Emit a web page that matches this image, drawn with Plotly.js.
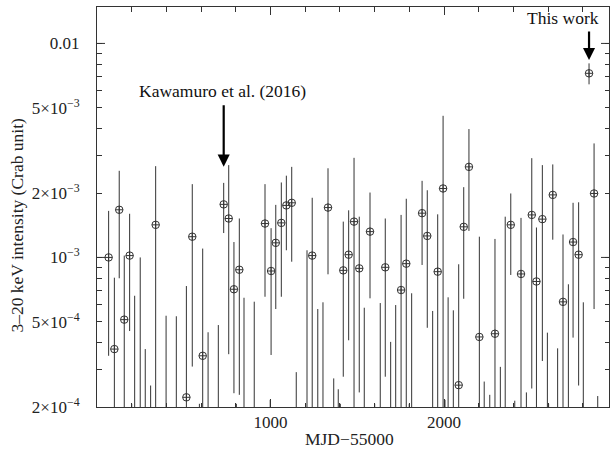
<!DOCTYPE html>
<html>
<head>
<meta charset="utf-8">
<script src="https://cdn.plot.ly/plotly-3.0.1.min.js"></script>
<style>html,body{margin:0;padding:0;background:#fff;}#chart{width:610px;height:449px;}</style>
</head>
<body>
<div id="chart"></div>
<script>
// Detections: MJD-55000, rate (Crab), lower bound, upper bound (0 = extends below axis)
var detMJD = [67,100,128,157,188,338,515,549,609,730,759,789,820,968,1003,1030,1062,1091,1122,1240,
  1331,1419,1450,1481,1511,1573,1661,1752,1782,1873,1903,1963,1994,2084,2113,2143,2203,2293,2384,2443,
  2505,2532,2566,2626,2685,2743,2775,2835,2864];
var detRate = [1.00e-3,3.73e-4,1.67e-3,5.12e-4,1.02e-3,1.42e-3,2.22e-4,1.25e-3,3.47e-4,1.77e-3,
  1.52e-3,7.10e-4,8.76e-4,1.44e-3,8.64e-4,1.17e-3,1.45e-3,1.75e-3,1.80e-3,1.02e-3,
  1.71e-3,8.70e-4,1.03e-3,1.47e-3,8.89e-4,1.32e-3,8.99e-4,7.04e-4,9.35e-4,1.61e-3,
  1.26e-3,8.58e-4,2.10e-3,2.53e-4,1.39e-3,2.65e-3,4.25e-4,4.40e-4,1.42e-3,8.37e-4,
  1.58e-3,7.72e-4,1.51e-3,1.96e-3,6.20e-4,1.18e-3,1.03e-3,7.25e-3,1.99e-3];
var detLow = [3.47e-4,0,7.99e-4,0,4.53e-4,0,0,3.09e-4,0,1.30e-3,
  3.53e-4,2.32e-4,2.28e-4,6.55e-4,3.50e-4,5.74e-4,6.55e-4,1.08e-3,9.55e-4,0,
  8.34e-4,2.77e-4,4.10e-4,0,2.34e-4,6.44e-4,2.77e-4,0,0,9.22e-4,
  4.69e-4,0,0,0,6.41e-4,1.33e-3,0,0,8.28e-4,0,
  2.44e-4,0,3.28e-4,1.21e-3,0,4.22e-4,2.52e-4,6.44e-3,5.74e-4];
var detHigh = [1.65e-3,8.04e-4,2.54e-3,1.02e-3,1.60e-3,2.67e-3,7.35e-4,2.20e-3,1.10e-3,2.23e-3,
  2.70e-3,1.18e-3,1.52e-3,2.20e-3,1.37e-3,1.76e-3,2.24e-3,2.41e-3,2.65e-3,1.90e-3,
  2.61e-3,1.47e-3,1.66e-3,2.92e-3,1.55e-3,2.01e-3,1.52e-3,1.58e-3,1.88e-3,2.28e-3,
  2.06e-3,1.59e-3,4.59e-3,9.29e-4,2.13e-3,3.98e-3,1.25e-3,1.22e-3,1.99e-3,1.53e-3,
  2.91e-3,1.38e-3,2.70e-3,2.72e-3,1.28e-3,1.80e-3,1.81e-3,8.07e-3,3.41e-3];

// Non-detections: bar from zero up to the upper value
var limMJD = [200,217,249,278,309,398,457,590,640,699,803,847,906,998,1148,1202,1210,1272,1302,1364,
  1390,1402,1540,1600,1632,1692,1721,1799,1813,1934,2005,2023,2053,2231,2263,2324,2352,2407,2474,2595,
  2602,2654,2716,2802,2885];
var limTop = [2.07e-4,6.62e-4,1.00e-3,3.73e-4,2.52e-4,5.34e-4,5.31e-4,2.07e-4,4.47e-4,4.83e-4,
  2.07e-4,6.48e-4,6.21e-4,2.16e-4,2.91e-4,2.07e-4,1.08e-3,5.74e-4,6.17e-4,2.72e-4,
  2.42e-4,2.07e-4,5.82e-4,2.07e-4,6.12e-4,4.03e-4,5.99e-4,2.07e-4,6.80e-4,5.62e-4,
  2.16e-4,6.51e-4,5.66e-4,2.63e-4,2.28e-4,3.08e-4,1.55e-3,2.14e-4,2.34e-4,4.45e-4,
  2.07e-4,3.76e-4,7.49e-4,6.17e-4,2.25e-4];

var yTickVals = [2e-4,5e-4,1e-3,2e-3,5e-3,0.01];
var yTickText = ['2×10<sup>−4</sup>','5×10<sup>−4</sup>','10<sup>−3</sup>','2×10<sup>−3</sup>','5×10<sup>−3</sup>','0.01'];
var yMinorVals = [3e-4,4e-4,6e-4,7e-4,8e-4,9e-4,3e-3,4e-3,6e-3,7e-3,8e-3,9e-3];
var yDecades = [1e-3,1e-2];
var xTickVals = [1000,2000];

var FONT = 'Liberation Serif, Times New Roman, serif';
var INK = '#333';

var errUp = detRate.map(function(v,i){return detHigh[i]-v;});
var errDn = detRate.map(function(v,i){return v-detLow[i];});

var traces = [
  {
    type:'scatter', mode:'markers', x:limMJD, y:limTop,
    marker:{size:2, opacity:0},
    error_y:{type:'data', symmetric:false, array:limTop.map(function(){return 0;}), arrayminus:limTop.slice(),
      color:INK, thickness:1, width:0},
    hoverinfo:'skip', showlegend:false
  },
  {
    type:'scatter', mode:'markers', x:detMJD, y:detRate,
    marker:{symbol:'circle-cross-open', size:7.5, color:INK, line:{width:1, color:INK}},
    error_y:{type:'data', symmetric:false, array:errUp, arrayminus:errDn,
      color:INK, thickness:1, width:0},
    showlegend:false
  }
];

var shapes = [];
yDecades.forEach(function(v){
  shapes.push({type:'line', xref:'paper', yref:'y', x0:0, x1:8/512, y0:v, y1:v, line:{color:INK, width:1}});
  shapes.push({type:'line', xref:'paper', yref:'y', x0:1-8/512, x1:1, y0:v, y1:v, line:{color:INK, width:1}});
});

var layout = {
  width:610, height:449,
  margin:{l:97, r:1, t:7, b:42, pad:0},
  paper_bgcolor:'#fff', plot_bgcolor:'#fff',
  font:{family:FONT, size:17, color:'#222'},
  showlegend:false,
  xaxis:{
    range:[0,2950], tickmode:'array', tickvals:xTickVals, ticktext:xTickVals.map(String),
    ticks:'inside', ticklen:8, tickcolor:INK, tickwidth:1,
    showline:true, linecolor:INK, linewidth:1, mirror:'ticks',
    showgrid:false, zeroline:false,
    minor:{ticks:'inside', tickmode:'linear', tick0:0, dtick:200, ticklen:4.5, tickcolor:INK, showgrid:false},
    tickfont:{family:FONT, size:17, color:'#222'}, ticklabelstandoff:0
  },
  yaxis:{
    type:'log', range:[Math.log10(2e-4), Math.log10(0.0148)],
    tickmode:'array', tickvals:yTickVals, ticktext:yTickText,
    ticks:'inside', ticklen:4.5, tickcolor:INK, tickwidth:1,
    showline:true, linecolor:INK, linewidth:1, mirror:'ticks',
    showgrid:false, zeroline:false,
    minor:{ticks:'inside', tickmode:'array', tickvals:yMinorVals, ticklen:4.5, tickcolor:INK, showgrid:false},
    tickfont:{family:FONT, size:17, color:'#222'}, ticklabelstandoff:13
  },
  shapes:shapes,
  annotations:[
    {xref:'paper', yref:'paper', x:-0.157, y:0.455, text:'3–20 keV intensity (Crab unit)', textangle:-90,
      showarrow:false, xanchor:'center', yanchor:'middle', font:{family:FONT, size:17.5, color:'#222'}},
    {xref:'paper', yref:'paper', x:0.494, y:-0.0795, text:'MJD−55000',
      showarrow:false, xanchor:'center', yanchor:'middle', font:{family:FONT, size:17.5, color:'#222'}},
    {xref:'x', yref:'y', x:723, y:-2.221, text:'Kawamuro et al. (2016)', showarrow:false,
      xanchor:'center', yanchor:'middle', font:{family:FONT, size:17.5, color:'#111'}},
    {xref:'x', yref:'y', x:730, y:-2.576, text:'', showarrow:true, ax:0, ay:-63,
      arrowhead:2, arrowsize:1.1, arrowwidth:2.2, arrowcolor:'#000'},
    {xref:'x', yref:'y', x:2685, y:-1.8826, text:'This work', showarrow:false,
      xanchor:'center', yanchor:'middle', font:{family:FONT, size:17.5, color:'#111'}},
    {xref:'x', yref:'y', x:2835, y:-2.0775, text:'', showarrow:true, ax:0, ay:-30,
      arrowhead:2, arrowsize:1.1, arrowwidth:2.2, arrowcolor:'#000'}
  ]
};

Plotly.newPlot('chart', traces, layout, {displayModeBar:false, staticPlot:true});
</script>
</body>
</html>
